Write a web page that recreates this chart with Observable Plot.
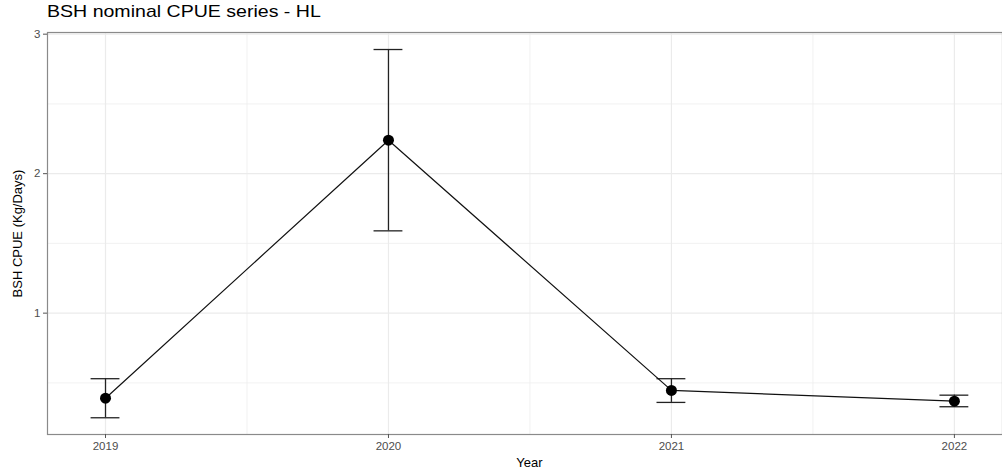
<!DOCTYPE html>
<html><head><meta charset="utf-8">
<script src="https://cdn.jsdelivr.net/npm/d3@7"></script>
<script src="https://cdn.jsdelivr.net/npm/@observablehq/plot@0.6"></script>
<style>
body{margin:0;background:#fff;font-family:"Liberation Sans",Arial,Helvetica,sans-serif;overflow:hidden;}
#title{height:24px;line-height:24px;font-size:17px;padding-left:47px;color:#000;white-space:nowrap;}
#title span{display:inline-block;transform:scaleX(1.15);transform-origin:0 50%;}
</style></head><body>
<div id="title"><span>BSH nominal CPUE series - HL</span></div>
<div id="chart"></div>
<script>
const years = [2019, 2020, 2021, 2022];
const cpue = [0.39, 2.24, 0.446, 0.369];
const lower = [0.25, 1.59, 0.36, 0.329];
const upper = [0.53, 2.89, 0.53, 0.412];
const yTicks = [1, 2, 3];
const yMinor = [0.5, 1.5, 2.5];
const xTicks = [2019, 2020, 2021, 2022];
const xMinor = [2019.5, 2020.5, 2021.5];
const capHalf = 0.051;

const data = years.map((y, i) => ({year: y, cpue: cpue[i], lo: lower[i], hi: upper[i]}));

const plot = Plot.plot({
  width: 1002,
  height: 446,
  marginTop: 8,
  marginBottom: 36,
  marginLeft: 47,
  marginRight: 0,
  style: {fontFamily: '"Liberation Sans", Arial, sans-serif', background: "#fff", color: "#4d4d4d"},
  x: {domain: [2018.795, 2022.170]},
  y: {domain: [0.130, 3.012]},
  marks: [
    Plot.ruleY(yMinor, {stroke: "#ededed", strokeWidth: 0.8}),
    Plot.ruleX(xMinor, {stroke: "#ededed", strokeWidth: 0.8}),
    Plot.ruleY(yTicks, {stroke: "#ebebeb", strokeWidth: 1.2}),
    Plot.ruleX(xTicks, {stroke: "#ebebeb", strokeWidth: 1.2}),
    Plot.frame({stroke: "#8a8a8a", strokeWidth: 1.2}),
    Plot.axisY(yTicks, {
      tickSize: 4, tickPadding: 3, fontSize: 11.5, stroke: "#555", fill: "#4d4d4d",
      tickFormat: d => String(d),
      label: "BSH CPUE (Kg/Days)", labelAnchor: "center", labelArrow: "none", labelOffset: 35
    }),
    Plot.axisX(xTicks, {
      tickSize: 4, tickPadding: 3, fontSize: 11.5, stroke: "#555", fill: "#4d4d4d",
      tickFormat: d => String(d),
      label: "Year", labelAnchor: "center", labelArrow: "none", labelOffset: 32
    }),
    Plot.ruleX(data, {x: "year", y1: "lo", y2: "hi", stroke: "#222", strokeWidth: 1.3}),
    Plot.ruleY(data, {y: "lo", x1: d => d.year - capHalf, x2: d => d.year + capHalf, stroke: "#222", strokeWidth: 1.3}),
    Plot.ruleY(data, {y: "hi", x1: d => d.year - capHalf, x2: d => d.year + capHalf, stroke: "#222", strokeWidth: 1.3}),
    Plot.line(data, {x: "year", y: "cpue", stroke: "#111", strokeWidth: 1.2}),
    Plot.dot(data, {x: "year", y: "cpue", r: 5.5, fill: "#000", stroke: "none"})
  ]
});
plot.querySelectorAll('[aria-label="y-axis label"] text, [aria-label="x-axis label"] text').forEach(t => {
  t.setAttribute("fill", "#000");
  t.style.fontSize = "13px";
});
const xl = plot.querySelector('[aria-label="x-axis label"]');
if (xl) xl.setAttribute("transform", "translate(4.5,0) " + (xl.getAttribute("transform") || ""));
document.getElementById("chart").appendChild(plot);
</script>
</body></html>
